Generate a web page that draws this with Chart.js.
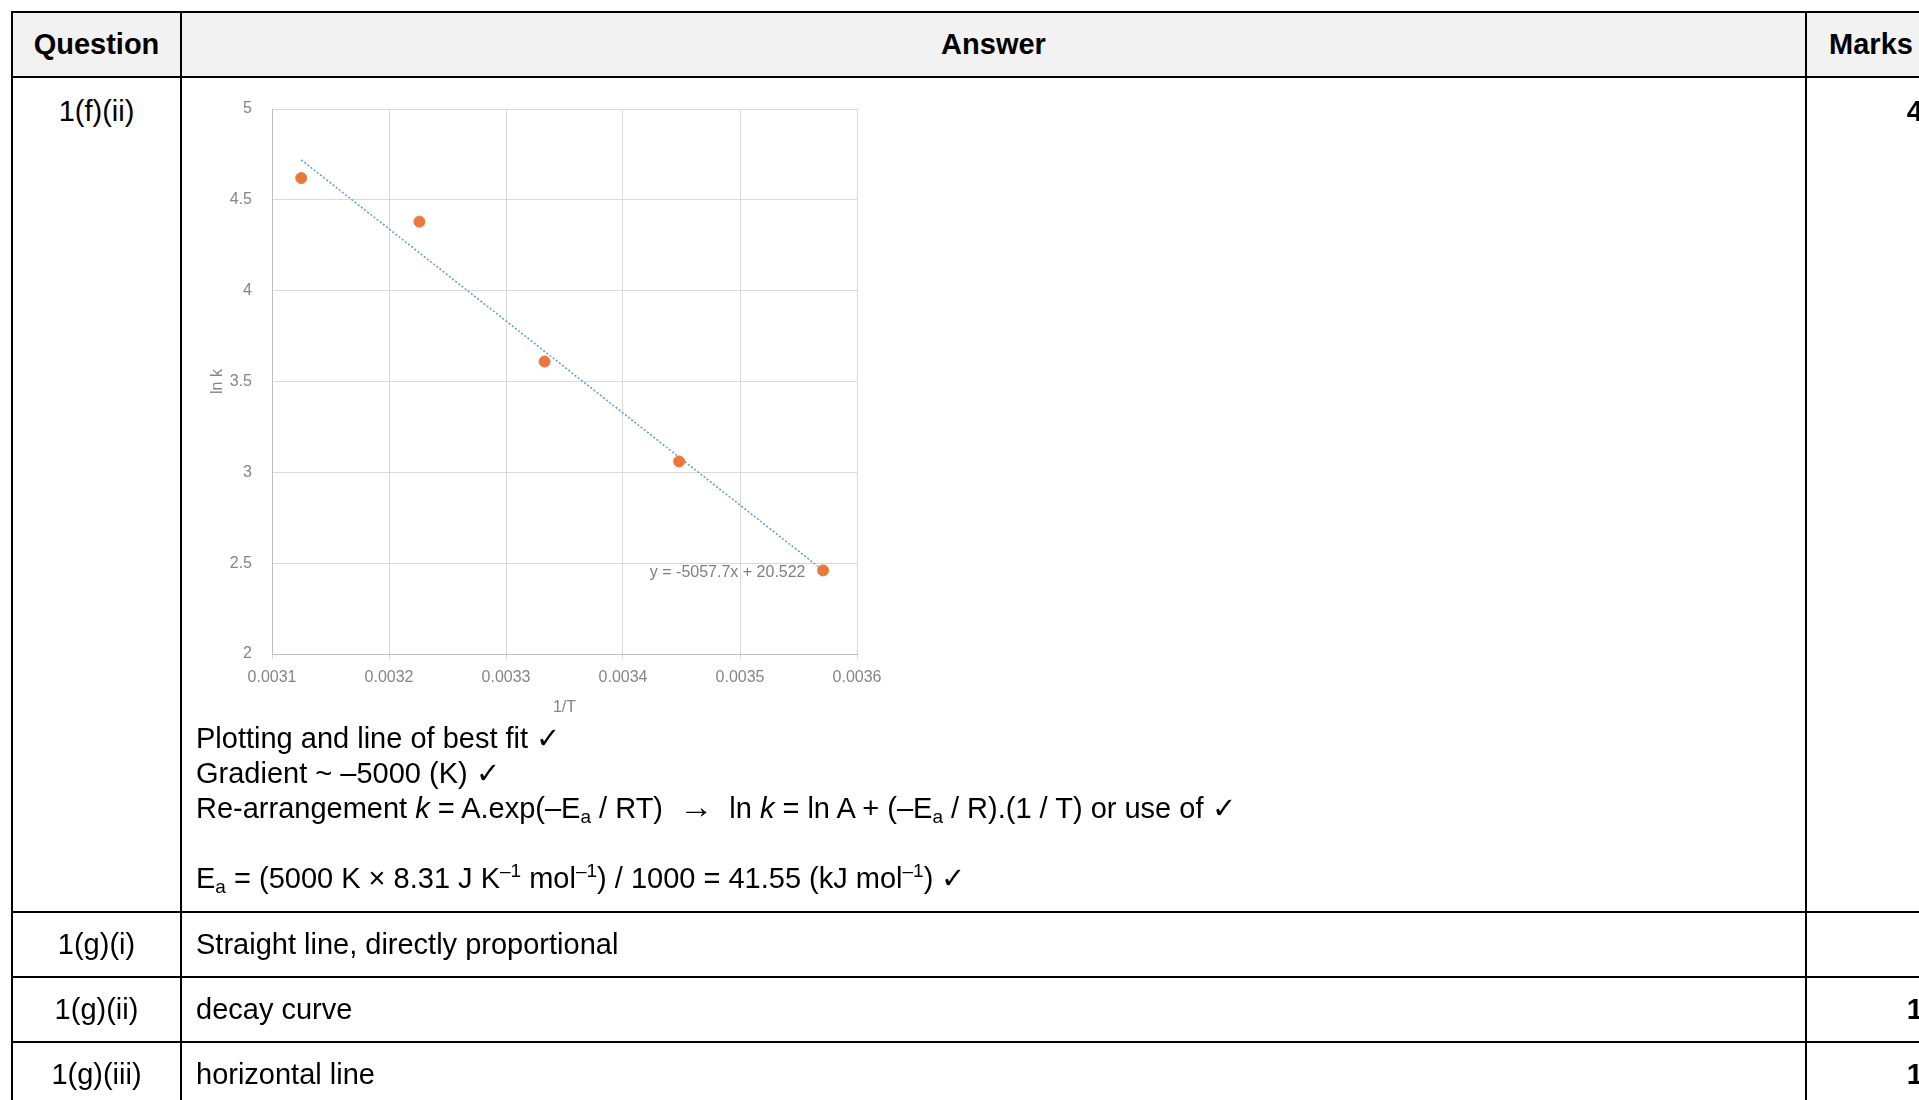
<!DOCTYPE html>
<html>
<head>
<meta charset="utf-8">
<script src="https://cdn.jsdelivr.net/npm/chart.js@4.4.0/dist/chart.umd.min.js"></script>
<style>
  html, body { margin: 0; padding: 0; background: #fff; overflow: hidden; width: 1919px; height: 1100px; }
  table {
    position: absolute; left: 11px; top: 11px; width: 1924px;
    border-collapse: collapse; table-layout: fixed;
    font-family: "Liberation Sans", Arial, sans-serif; font-size: 29px; color: #000;
  }
  td, th { border: 2px solid #000; padding: 0 14px; line-height: 35px; }
  th { background: #f2f2f2; font-weight: bold; height: 63px; text-align: center; }
  td.q { text-align: center; }
  td.m { text-align: right; font-weight: bold; padding-right: 12px; }
  tr.big td { vertical-align: top; padding-top: 16px; padding-bottom: 0; }
  tr.small td { height: 63px; vertical-align: middle; }
  #chartBox { width: 700px; height: 625px; margin-top: 2px; }
  sub, sup { font-size: 19px; line-height: 0; }
  sub { vertical-align: -5px; }
  sup { vertical-align: 11px; }
  .arrow { font-size: 34px; line-height: 0; }
</style>
</head>
<body>
<table>
  <colgroup><col style="width:169px"><col style="width:1625px"><col style="width:130px"></colgroup>
  <tr><th>Question</th><th>Answer</th><th>Marks</th></tr>
  <tr class="big">
    <td class="q" style="height:817px">1(f)(ii)</td>
    <td>
      <div id="chartBox"><canvas id="arrhenius" width="700" height="625"></canvas></div>
      <div>Plotting and line of best fit ✓</div>
      <div>Gradient ~ –5000 (K) ✓</div>
      <div>Re-arrangement <i>k</i> = A.exp(–E<sub>a</sub> / RT) &nbsp;<span class="arrow">→</span>&nbsp; ln <i>k</i> = ln A + (–E<sub>a</sub> / R).(1 / T) or use of ✓</div>
      <div>&nbsp;</div>
      <div>E<sub>a</sub> = (5000 K × 8.31 J K<sup>–1</sup> mol<sup>–1</sup>) / 1000 = 41.55 (kJ mol<sup>–1</sup>) ✓</div>
    </td>
    <td class="m">4</td>
  </tr>
  <tr class="small"><td class="q">1(g)(i)</td><td>Straight line, directly proportional</td><td class="m"></td></tr>
  <tr class="small"><td class="q">1(g)(ii)</td><td>decay curve</td><td class="m">1</td></tr>
  <tr class="small"><td class="q">1(g)(iii)</td><td>horizontal line</td><td class="m">1</td></tr>
</table>
<script>
// 1/T against ln k
const invT = [0.003125, 0.003226, 0.003333, 0.003448, 0.003571];
const lnK = [4.62, 4.38, 3.61, 3.06, 2.46];
// best fit line end points
const trendX = [0.003125, 0.003571];
const trendY = [4.72, 2.46];
const trendLabel = 'y = -5057.7x + 20.522';
const xTickLabels = ['0.0031', '0.0032', '0.0033', '0.0034', '0.0035', '0.0036'];
const yTickLabels = ['2', '2.5', '3', '3.5', '4', '4.5', '5'];

const labelColor = '#858585';
const tickFont = { family: "'Liberation Sans', Arial, sans-serif", size: 16 };

// writes the trendline equation next to the last point
const trendText = {
    id: 'trendText',
    afterDatasetsDraw(chart) {
        const ctx = chart.ctx;
        const x = chart.scales.x.getPixelForValue(0.003556);
        const y = chart.scales.y.getPixelForValue(2.45);
        ctx.save();
        ctx.font = "16px 'Liberation Sans', Arial, sans-serif";
        ctx.fillStyle = '#7f7f7f';
        ctx.textAlign = 'right';
        ctx.textBaseline = 'middle';
        ctx.fillText(trendLabel, x, y);
        ctx.restore();
    }
};

const ctx = document.getElementById('arrhenius').getContext('2d');
new Chart(ctx, {
    type: 'scatter',
    data: {
        datasets: [
            {
                label: 'ln k',
                data: invT.map((v, i) => ({ x: v, y: lnK[i] })),
                backgroundColor: '#e8793a',
                borderColor: '#e8793a',
                pointRadius: 5.5,
                order: 0
            },
            {
                label: 'Linear (ln k)',
                data: trendX.map((v, i) => ({ x: v, y: trendY[i] })),
                showLine: true,
                borderColor: '#5b9bd5',
                borderWidth: 1.5,
                borderDash: [2, 2],
                pointRadius: 0,
                order: 1
            }
        ]
    },
    options: {
        responsive: false,
        animation: false,
        layout: { padding: { top: 13, right: 39, left: 0, bottom: 0 } },
        plugins: {
            legend: { display: false },
            tooltip: { enabled: false }
        },
        scales: {
            x: {
                type: 'linear',
                min: 0.0031,
                max: 0.0036,
                afterFit: (scale) => { scale.height = 67; },
                grid: { color: '#d9d9d9', tickLength: 5 },
                border: { color: '#bfbfbf' },
                ticks: {
                    stepSize: 0.0001,
                    padding: 9,
                    color: labelColor,
                    font: tickFont,
                    maxRotation: 0,
                    callback: (v, i) => xTickLabels[i]
                },
                title: { display: true, text: '1/T', color: labelColor, font: tickFont, padding: { top: 4 } }
            },
            y: {
                min: 2,
                max: 5,
                afterFit: (scale) => { scale.width = 76; },
                grid: { color: '#d9d9d9', tickLength: 18, tickColor: 'rgba(0,0,0,0)' },
                border: { color: '#bfbfbf' },
                ticks: {
                    stepSize: 0.5,
                    padding: 2,
                    color: labelColor,
                    font: tickFont,
                    callback: (v, i) => yTickLabels[i]
                },
                title: { display: true, text: 'ln k', color: labelColor, font: tickFont, padding: { top: 12 } }
            }
        }
    },
    plugins: [trendText]
});
</script>
</body>
</html>
